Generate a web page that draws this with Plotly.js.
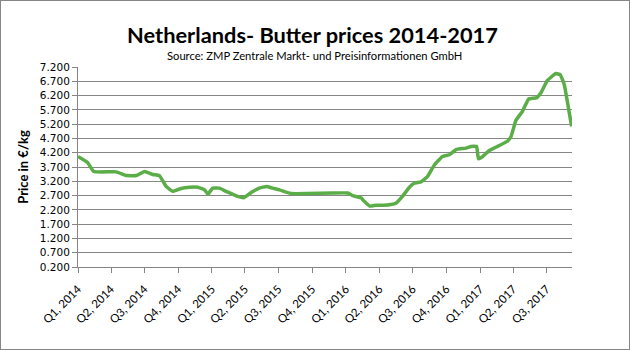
<!DOCTYPE html>
<html><head><meta charset="utf-8">
<script src="https://cdn.plot.ly/plotly-3.0.1.min.js"></script>
<style>
body{margin:0;background:#fff}
#frame{position:absolute;left:0;top:0;width:630px;height:350px;box-sizing:border-box;border:1px solid #868686;pointer-events:none}
</style>
</head><body>
<div id="chart" style="width:630px;height:350px"></div>
<div id="frame"></div>
<script>
const dates = [
"2014-01-01","2014-01-27","2014-02-13","2014-04-15","2014-05-13","2014-06-09","2014-07-01","2014-07-24","2014-08-11","2014-08-29",
"2014-09-16","2014-10-09","2014-11-01","2014-11-23","2014-12-12","2014-12-21","2015-01-03","2015-01-21","2015-02-08","2015-02-26",
"2015-03-12","2015-03-30","2015-04-18","2015-05-10","2015-05-30","2015-06-15","2015-07-04","2015-07-22","2015-08-05","2015-09-14",
"2015-11-26","2016-01-06","2016-01-19","2016-02-11","2016-02-20","2016-03-06","2016-03-23","2016-04-24","2016-05-17","2016-06-03",
"2016-06-22","2016-07-05","2016-07-24","2016-08-10","2016-08-29","2016-09-20","2016-10-09","2016-10-27","2016-11-23","2016-12-07",
"2016-12-22","2016-12-27","2017-01-07","2017-01-25","2017-02-22","2017-03-16","2017-03-26","2017-04-08","2017-04-26","2017-05-13",
"2017-06-03","2017-06-15","2017-07-03","2017-07-26","2017-08-07","2017-08-18","2017-08-27","2017-09-07"
];
const prices = [
4.07,3.86,3.54,3.53,3.40,3.40,3.54,3.44,3.40,3.02,
2.85,2.95,2.99,2.99,2.90,2.75,2.96,2.96,2.85,2.75,
2.67,2.63,2.81,2.96,3.02,2.96,2.90,2.82,2.77,2.77,
2.79,2.79,2.70,2.62,2.50,2.33,2.36,2.37,2.44,2.67,
2.99,3.13,3.18,3.36,3.77,4.07,4.13,4.31,4.36,4.42,
4.42,3.99,4.06,4.27,4.45,4.60,4.77,5.33,5.65,6.08,
6.12,6.29,6.73,6.97,6.93,6.58,5.94,5.12
];
const tickDates = ["2014-01-01","2014-04-01","2014-07-01","2014-10-01","2015-01-01","2015-04-01","2015-07-01","2015-10-01",
"2016-01-01","2016-04-01","2016-07-01","2016-10-01","2017-01-01","2017-04-01","2017-07-01"];
const tickLabels = ["Q1, 2014","Q2, 2014","Q3, 2014","Q4, 2014","Q1, 2015","Q2, 2015","Q3, 2015","Q4, 2015",
"Q1, 2016","Q2, 2016","Q3, 2016","Q4, 2016","Q1, 2017","Q2, 2017","Q3, 2017"];

const trace = {
  x: dates, y: prices, type: "scatter", mode: "lines",
  line: {color: "#5aad47", width: 3.5, shape: "spline", smoothing: 0.3},
  hoverinfo: "skip"
};
const layout = {
  width: 630, height: 350,
  margin: {l: 78, r: 58, t: 67, b: 83},
  paper_bgcolor: "#fff", plot_bgcolor: "#fff",
  showlegend: false,
  title: {text: "<b>Netherlands- Butter prices 2014-2017</b>", x: 0.496, xanchor: "center", y: 0.9, yanchor: "middle",
    font: {family: "Lato", size: 21.8, color: "#000"}},
  annotations: [{text: "Source: ZMP Zentrale Markt- und Preisinformationen GmbH", xref: "paper", yref: "paper",
    x: 0.479, y: 1.0, yshift: 12, showarrow: false, xanchor: "center", yanchor: "middle",
    font: {family: "Lato", size: 11.2, color: "#000"}}],
  xaxis: {
    type: "date", range: ["2014-01-01", "2017-09-08"],
    tickmode: "array", tickvals: tickDates, ticktext: tickLabels, tickangle: -45,
    ticks: "outside", ticklen: 5, tickcolor: "#868686", tickwidth: 1, ticklabelstandoff: 5,
    showgrid: false, showline: true, linecolor: "#868686", linewidth: 1, zeroline: false,
    tickfont: {family: "Lato", size: 11.5, color: "#000"}
  },
  yaxis: {
    range: [0.2, 7.2], tickmode: "linear", tick0: 0.2, dtick: 0.5, tickformat: ".3f",
    ticks: "outside", ticklen: 5, tickcolor: "#868686", tickwidth: 1,
    showgrid: true, gridcolor: "#868686", gridwidth: 1,
    showline: true, linecolor: "#868686", linewidth: 1, zeroline: false,
    tickfont: {family: "DejaVu Sans", size: 10.5, color: "#000"},
    title: {text: "<b>Price in €/kg</b>", standoff: 8, font: {family: "Lato", size: 13, color: "#000"}}
  }
};
Plotly.newPlot("chart", [trace], layout, {displayModeBar: false, staticPlot: true});
</script>
</body></html>
